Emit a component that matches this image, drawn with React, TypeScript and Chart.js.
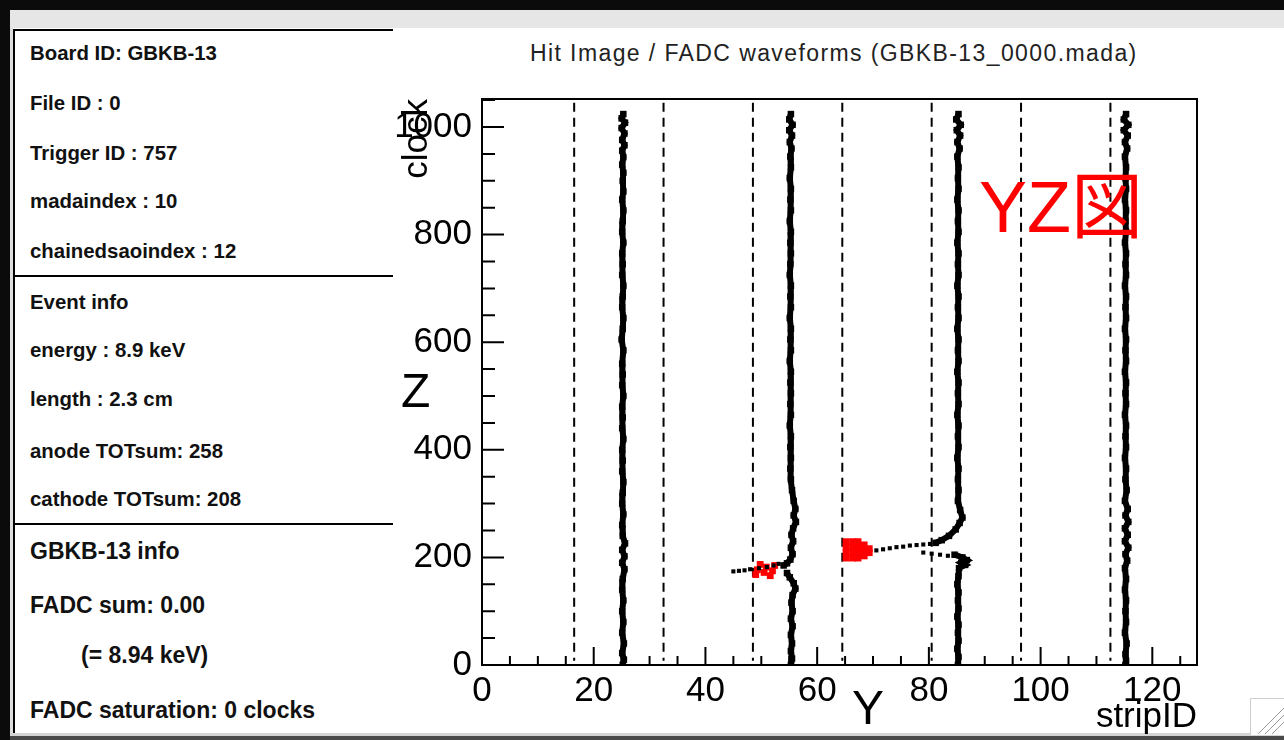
import React, { useEffect, useRef } from "react";
import { Chart, registerables } from "chart.js";

Chart.register(...registerables);

// ---------- axis ranges / ticks ----------
const stripMin = 0;
const stripMax = 128;
const clockMin = 0;
const clockMax = 1052;
const stripMajorStep = 20;
const stripMinorStep = 5;
const clockMajorStep = 200;
const clockMinorStep = 50;

// ---------- dashed strip boundaries ----------
const dashedStrips = [16.5, 32.5, 48.5, 64.5, 80.5, 96.5, 112.5];
const dashedClockSpan = [1045, 8];

// ---------- FADC waveforms: [strip, clock] ----------
const waveA: [number, number][] = [
  [25.3, 1024], [25.0, 1016], [25.6, 1008], [25.0, 998], [25.5, 988], [25.1, 976], [25.5, 966],
  [25.1, 956], [25.3, 944], [25.1, 930], [25.3, 915], [25.2, 900], [25.3, 880], [25.1, 865],
  [25.3, 845], [25.2, 825], [25.1, 805], [25.3, 785], [25.1, 765], [25.2, 745], [25.1, 725],
  [25.3, 705], [25.2, 685], [25.1, 665], [25.3, 645], [25.2, 625], [25.0, 605], [25.3, 585],
  [25.1, 560], [25.2, 540], [25.1, 520], [25.3, 500], [25.1, 480], [25.2, 460], [25.1, 440],
  [25.3, 420], [25.1, 400], [25.2, 380], [25.1, 360], [25.3, 340], [25.2, 320], [25.1, 300],
  [25.3, 280], [25.1, 260], [25.2, 240], [25.6, 226], [25.1, 214], [25.5, 202], [25.1, 190],
  [25.5, 178], [25.2, 160], [25.1, 140], [25.3, 120], [25.1, 100], [25.3, 80], [25.1, 60],
  [25.4, 40], [25.1, 22], [25.4, 10], [25.2, 0],
];

const waveBUpper: [number, number][] = [
  [55.3, 1024], [55.0, 1014], [55.6, 1004], [55.0, 994], [55.5, 984], [55.1, 972], [55.4, 960],
  [55.2, 945], [55.3, 925], [55.1, 905], [55.3, 885], [55.2, 865], [55.3, 845], [55.1, 825],
  [55.3, 805], [55.2, 785], [55.3, 765], [55.2, 745], [55.1, 725], [55.3, 705], [55.2, 685],
  [55.3, 665], [55.1, 645], [55.3, 625], [55.2, 605], [55.3, 585], [55.1, 565], [55.3, 545],
  [55.2, 525], [55.3, 505], [55.2, 485], [55.3, 465], [55.1, 445], [55.3, 425], [55.2, 405],
  [55.3, 385], [55.2, 365], [55.3, 345], [55.5, 325], [55.8, 305], [56.1, 290], [55.8, 278],
  [56.2, 266], [55.7, 254], [55.4, 242], [55.7, 230], [55.3, 218], [55.6, 206], [55.2, 196],
  [54.6, 189], [54.0, 185],
];
const waveBPulse: [number, number][] = [
  [45.0, 174], [46.0, 175], [47.0, 176], [48.0, 178], [49.6, 180], [51.0, 182],
  [52.2, 185], [53.1, 188],
];
const waveBLower: [number, number][] = [
  [54.6, 171], [55.1, 163], [55.8, 152], [56.1, 142], [55.6, 130], [55.4, 116], [55.6, 100],
  [55.3, 86], [55.6, 72], [55.3, 56], [55.5, 40], [55.3, 26], [55.5, 12], [55.3, 0],
];

const waveCUpper: [number, number][] = [
  [85.3, 1024], [84.9, 1014], [85.7, 1004], [85.0, 994], [85.6, 984], [85.1, 972], [85.5, 960],
  [85.1, 945], [85.3, 925], [85.2, 905], [85.3, 885], [85.1, 865], [85.3, 845], [85.2, 825],
  [85.3, 805], [85.1, 785], [85.3, 765], [85.2, 745], [85.3, 725], [85.1, 705], [85.3, 685],
  [85.2, 665], [85.3, 645], [85.1, 625], [85.3, 605], [85.2, 585], [85.3, 565], [85.1, 545],
  [85.3, 525], [85.2, 505], [85.3, 485], [85.1, 465], [85.3, 445], [85.2, 425], [85.3, 405],
  [85.1, 385], [85.3, 365], [85.2, 345], [85.3, 325], [85.2, 305], [85.6, 288], [86.0, 274],
  [85.5, 264], [84.8, 252], [83.6, 240], [82.3, 232], [81.2, 227],
];
const waveCPulseUpper: [number, number][] = [
  [80.2, 225], [79.0, 224], [77.8, 223], [76.6, 222], [75.4, 220], [74.2, 219], [73.0, 217],
  [71.8, 215], [70.6, 213],
];
const waveCPulseLower: [number, number][] = [
  [79.0, 209], [80.5, 207], [82.0, 205], [83.4, 203],
];
const waveCLower: [number, number][] = [
  [84.6, 205], [86.0, 200], [86.8, 195], [85.8, 190], [86.5, 186], [85.4, 180], [85.3, 165],
  [85.1, 150], [85.3, 135], [85.2, 120], [85.3, 105], [85.1, 90], [85.3, 75], [85.2, 60],
  [85.3, 45], [85.1, 30], [85.3, 15], [85.2, 0],
];

const waveD: [number, number][] = [
  [115.3, 1024], [114.9, 1014], [115.7, 1004], [114.9, 994], [115.6, 984], [115.1, 972],
  [115.5, 960], [115.1, 945], [115.3, 925], [115.2, 905], [115.3, 885], [115.1, 865],
  [115.3, 845], [115.2, 825], [115.3, 805], [115.1, 785], [115.3, 765], [115.2, 745],
  [115.3, 725], [115.1, 705], [115.3, 685], [115.2, 665], [115.3, 645], [115.1, 625],
  [115.3, 605], [115.2, 585], [115.3, 565], [115.1, 545], [115.3, 525], [115.2, 505],
  [115.3, 485], [115.1, 465], [115.3, 445], [115.2, 425], [115.3, 405], [115.1, 385],
  [115.3, 365], [115.2, 345], [115.4, 325], [115.1, 305], [115.6, 290], [115.2, 278],
  [115.7, 266], [115.1, 254], [115.6, 242], [115.1, 230], [115.7, 218], [115.2, 206],
  [115.5, 194], [115.1, 180], [115.3, 160], [115.1, 140], [115.3, 120], [115.2, 100],
  [115.3, 80], [115.1, 60], [115.4, 40], [115.2, 20], [115.3, 8], [115.2, 0],
];

// ---------- hit points (red) ----------
const hitsCluster1: [number, number][] = [
  [49.0, 168], [49.3, 177], [49.8, 187], [50.5, 172], [50.9, 182],
  [51.6, 166], [52.0, 175], [52.4, 185],
];
const hitsCluster2: [number, number][] = [
  [65.2, 229], [65.2, 219], [65.2, 209], [65.2, 199],
  [66.4, 229], [66.4, 219], [66.4, 209], [66.4, 199],
  [67.3, 229], [67.3, 219], [67.3, 209], [67.3, 199],
  [68.4, 223], [68.4, 213], [68.4, 203],
  [69.3, 216], [69.3, 209],
];

// ---------- tick labels / texts ----------
const stripAxisTitle = "stripID";
const clockAxisTitle = "clock";
const chartTitle = "Hit Image / FADC waveforms (GBKB-13_0000.mada)";

const boardInfo = [
  "Board ID: GBKB-13",
  "File ID : 0",
  "Trigger ID : 757",
  "madaindex : 10",
  "chainedsaoindex : 12",
];
const eventInfo = [
  "Event info",
  "energy : 8.9 keV",
  "length : 2.3 cm",
  "anode TOTsum: 258",
  "cathode TOTsum: 208",
];
const fadcInfo = ["GBKB-13 info", "FADC sum: 0.00", "(= 8.94 keV)", "FADC saturation: 0 clocks"];

const FONT = '"Liberation Sans", Arial, Helvetica, sans-serif';

const toPts = (arr: [number, number][]) => arr.map(([x, y]) => ({ x, y }));

const frameTicksPlugin = {
  id: "frameTicks",
  afterDatasetsDraw(chart: any) {
    const { ctx, chartArea: a, scales } = chart;
    const xs = scales.x;
    const ys = scales.y;
    ctx.save();
    ctx.strokeStyle = "#000";
    ctx.lineWidth = 2;
    ctx.strokeRect(a.left, a.top, a.right - a.left, a.bottom - a.top);
    ctx.beginPath();
    for (let v = clockMin; v <= clockMax; v += clockMinorStep) {
      const py = ys.getPixelForValue(v);
      const len = v % clockMajorStep === 0 ? 22 : 13;
      ctx.moveTo(a.left, py);
      ctx.lineTo(a.left + len, py);
    }
    for (let v = stripMin; v <= stripMax; v += stripMinorStep) {
      const px = xs.getPixelForValue(v);
      const len = v % stripMajorStep === 0 ? 18 : 9;
      ctx.moveTo(px, a.bottom);
      ctx.lineTo(px, a.bottom - len);
    }
    ctx.stroke();
    ctx.restore();
  },
};

function buildConfig(): any {
  const waveStyle = {
    showLine: true,
    borderColor: "#000",
    backgroundColor: "#000",
    borderWidth: 6,
    pointStyle: "rect",
    pointRadius: 4.6,
    pointBorderWidth: 0,
    tension: 0,
    order: 2,
  };
  const dotStyle = {
    showLine: false,
    backgroundColor: "#000",
    pointStyle: "rect",
    pointRadius: 2.9,
    pointBorderWidth: 0,
    order: 1,
  };
  const dashed = dashedStrips.map((s) => ({
    data: dashedClockSpan.map((c) => ({ x: s, y: c })),
    showLine: true,
    borderColor: "#000",
    borderWidth: 2,
    borderDash: [9, 6],
    pointRadius: 0,
    order: 3,
  }));
  return {
    type: "scatter",
    data: {
      datasets: [
        ...dashed,
        { ...waveStyle, data: toPts(waveA) },
        { ...waveStyle, data: toPts(waveBUpper) },
        { ...dotStyle, data: toPts(waveBPulse) },
        { ...waveStyle, data: toPts(waveBLower) },
        { ...waveStyle, data: toPts(waveCUpper) },
        { ...dotStyle, data: toPts(waveCPulseUpper) },
        { ...dotStyle, data: toPts(waveCPulseLower) },
        { ...waveStyle, data: toPts(waveCLower) },
        { ...waveStyle, data: toPts(waveD) },
        {
          data: toPts(hitsCluster1),
          showLine: false,
          backgroundColor: "#ff0000",
          pointStyle: "rect",
          pointRadius: 4.8,
          pointBorderWidth: 0,
          order: 1.5,
        },
        {
          data: toPts(hitsCluster2),
          showLine: false,
          backgroundColor: "#ff0000",
          pointStyle: "rect",
          pointRadius: 5,
          pointBorderWidth: 0,
          order: 0,
        },
      ],
    },
    options: {
      responsive: false,
      animation: false,
      devicePixelRatio: 1,
      events: [],
      layout: { padding: { left: 392, right: 87, top: 99, bottom: 0 } },
      plugins: { legend: { display: false }, tooltip: { enabled: false }, title: { display: false } },
      scales: {
        x: {
          type: "linear",
          min: stripMin,
          max: stripMax,
          grid: { display: false, drawTicks: false },
          border: { display: false },
          afterFit: (s: any) => {
            s.height = 75;
          },
          ticks: {
            stepSize: stripMajorStep,
            includeBounds: false,
            color: "#000",
            padding: 5,
            maxRotation: 0,
            autoSkip: false,
            font: { family: FONT, size: 35 },
            callback: (v: any) => String(v),
          },
          title: {
            display: true,
            text: stripAxisTitle,
            align: "end",
            color: "#000",
            padding: { top: 0, bottom: 2 },
            font: { family: FONT, size: 35 },
          },
        },
        y: {
          type: "linear",
          min: clockMin,
          max: clockMax,
          grid: { display: false, drawTicks: false },
          border: { display: false },
          afterFit: (s: any) => {
            s.width = 90;
          },
          ticks: {
            stepSize: clockMajorStep,
            includeBounds: false,
            color: "#000",
            padding: 10,
            autoSkip: false,
            font: { family: FONT, size: 35 },
            callback: (v: any) => String(v),
          },
          title: {
            display: true,
            text: clockAxisTitle,
            align: "end",
            color: "#000",
            padding: { top: 4, bottom: 0 },
            font: { family: FONT, size: 35 },
          },
        },
      },
    },
    plugins: [frameTicksPlugin],
  };
}

const abs = (left: number, top: number, extra: React.CSSProperties = {}): React.CSSProperties => ({
  position: "absolute",
  left,
  top,
  whiteSpace: "nowrap",
  ...extra,
});

export default function App() {
  const ref = useRef<HTMLCanvasElement>(null);
  useEffect(() => {
    document.body.style.margin = "0";
    const chart = new Chart(ref.current as HTMLCanvasElement, buildConfig());
    return () => chart.destroy();
  }, []);

  const g1Centers = [53, 102.5, 152.5, 201, 250.5];
  const g2Centers = [302, 350, 399, 450.5, 499];
  const g3Centers = [551, 605, 655, 710];
  const g3Left = [30, 30, 81, 30];

  const textLine = (t: string, cy: number, fs: number, left: number, key: string) => (
    <div
      key={key}
      style={abs(left, cy - fs * 0.488, {
        fontFamily: FONT,
        fontWeight: 700,
        fontSize: fs,
        lineHeight: `${fs}px`,
        color: "#111",
      })}
    >
      {t}
    </div>
  );

  return (
    <div
      style={{
        position: "fixed",
        left: 0,
        top: 0,
        width: 1284,
        height: 740,
        background: "#0b0b0b",
        overflow: "hidden",
        fontFamily: FONT,
      }}
    >
      {/* window */}
      <div style={abs(10, 10, { width: 1274, height: 726, background: "#fff" })} />
      <div style={abs(10, 10, { width: 1274, height: 18, background: "#e6e6e6" })} />
      <div style={abs(10, 28, { width: 3, height: 708, background: "#dcdcdc" })} />
      <div style={abs(10, 733, { width: 1274, height: 3, background: "#d4d4d4" })} />
      <div style={abs(10, 736, { width: 1274, height: 4, background: "#4a4a4a" })} />

      {/* left info panel */}
      <div style={abs(13, 29, { width: 2, height: 704, background: "#000" })} />
      <div style={abs(13, 29, { width: 380, height: 2, background: "#000" })} />
      <div style={abs(13, 275, { width: 380, height: 2, background: "#000" })} />
      <div style={abs(13, 523, { width: 380, height: 2, background: "#000" })} />
      {boardInfo.map((t, i) => textLine(t, g1Centers[i], 20.4, 30, "b" + i))}
      {eventInfo.map((t, i) => textLine(t, g2Centers[i], 20.4, 30, "e" + i))}
      {fadcInfo.map((t, i) => textLine(t, g3Centers[i], 23, g3Left[i], "f" + i))}

      {/* chart title */}
      <div
        style={abs(530, 53.5 - 23 * 0.488, {
          fontSize: 23,
          lineHeight: "23px",
          letterSpacing: "1.4px",
          color: "#222",
        })}
      >
        {chartTitle}
      </div>

      <canvas
        ref={ref}
        width={1284}
        height={740}
        style={{ position: "absolute", left: 0, top: 0, width: 1284, height: 740 }}
      />

      {/* annotations */}
      <div style={abs(401, 390 - 48 * 0.488, { fontSize: 48, lineHeight: "48px", color: "#000" })}>Z</div>
      <div style={abs(852, 707.5 - 48 * 0.488, { fontSize: 48, lineHeight: "48px", color: "#000" })}>Y</div>
      <div
        style={abs(979, 206.5 - 72 * 0.488, {
          fontSize: 72,
          lineHeight: "72px",
          color: "#ff0000",
          fontFamily: '"Liberation Sans", "Noto Sans CJK JP", sans-serif',
        })}
      >
        YZ図
      </div>

      {/* resize grip */}
      <svg style={abs(1250, 698, {})} width={34} height={37}>
        <rect x={0.5} y={0.5} width={40} height={40} fill="#fff" stroke="#cfcfcf" />
        <line x1={8} y1={36} x2={34} y2={10} stroke="#9a9a9a" strokeWidth={1} />
        <line x1={15} y1={36} x2={34} y2={17} stroke="#9a9a9a" strokeWidth={1} />
        <line x1={22} y1={36} x2={34} y2={24} stroke="#9a9a9a" strokeWidth={1} />
      </svg>
    </div>
  );
}
